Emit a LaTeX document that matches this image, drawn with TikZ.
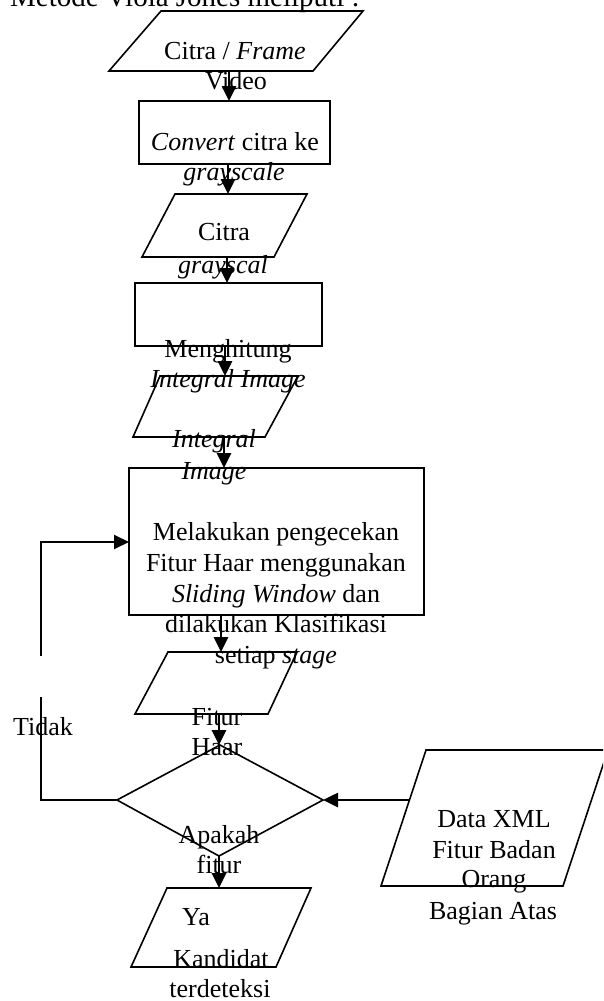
\documentclass[tikz,border=0pt]{standalone}
\usepackage{fontspec}
\setmainfont{Liberation Serif}
\usetikzlibrary{arrows.meta}
\begin{document}
\begin{tikzpicture}[x=1pt,y=-1pt,
  shp/.style={draw=black, line width=1.6pt, line join=miter},
  box/.style={shp, inner sep=0pt, outer sep=0pt},
  arr/.style={draw=black, line width=2.6pt, -{Triangle[length=15pt,width=14pt]}},
  arrthin/.style={draw=black, line width=2pt, -{Triangle[length=15pt,width=14pt]}},
  lin/.style={draw=black, line width=1.8pt},
  txt/.style={font=\fontsize{26}{31}\selectfont, inner sep=0pt, anchor=base},
  ttl/.style={font=\fontsize{29}{34}\selectfont, inner sep=0pt, anchor=base west},
]
\useasboundingbox (0,0) rectangle (603,1001);
\clip (0,0) rectangle (603,1001);

% ---- texts ----
\node[ttl] (title) at (10,6) {Metode Viola Jones meliputi :};
\node[txt] (t1a) at (235,59) {Citra / \textit{Frame}};
\node[txt] (t1b) at (236,89) {Video};
\node[txt] (t2a) at (235,150) {\textit{Convert} citra ke};
\node[txt] (t2b) at (234,180) {\textit{grayscale}};
\node[txt] (t3a) at (224,240) {Citra};
\node[txt] (t3b) at (223,273) {\textit{grayscal}};
\node[txt] (t4a) at (228,357) {Menghitung};
\node[txt] (t4b) at (228,387) {\textit{Integral Image}};
\node[txt] (t5a) at (214,447) {\textit{Integral}};
\node[txt] (t5b) at (214,479) {\textit{Image}};
\node[txt] (t6a) at (276,540) {Melakukan pengecekan};
\node[txt] (t6b) at (276,571) {Fitur Haar menggunakan};
\node[txt] (t6c) at (276,602) {\textit{Sliding Window} dan};
\node[txt] (t6d) at (276,632) {dilakukan Klasifikasi};
\node[txt] (t6e) at (276,663) {setiap \textit{stage}};
\node[txt] (t7a) at (217,725) {Fitur};
\node[txt] (t7b) at (217,755) {Haar};
\node[txt, anchor=base west] (tidak) at (13,735) {Tidak};
\node[txt] (t8a) at (219,843) {Apakah};
\node[txt] (t8b) at (219,873) {fitur};
\node[txt, anchor=base west] (ya) at (182,925) {Ya};
\node[txt] (t9a) at (221,967) {Kandidat};
\node[txt] (t9b) at (220,997) {terdeteksi};
\node[txt] (x1) at (494,827) {Data XML};
\node[txt] (x2) at (494,858) {Fitur Badan};
\node[txt] (x3) at (494,887) {Orang};
\node[txt] (x4) at (493,919) {Bagian Atas};

% ---- shapes ----
\draw[shp] (161,11) -- (363,11) -- (313,71) -- (109,71) -- cycle;
\node[box, minimum width=191pt, minimum height=63pt] (r2) at (234.5,132.5) {};
\draw[shp] (175,194) -- (307,194) -- (274,257) -- (142,257) -- cycle;
\node[box, minimum width=187pt, minimum height=63pt] (r4) at (228.5,314.5) {};
\draw[shp] (160,376) -- (298,376) -- (265,437) -- (133,437) -- cycle;
\node[box, minimum width=295pt, minimum height=147pt] (r6) at (276.5,541.5) {};
\draw[shp] (168,652) -- (297,652) -- (268,714) -- (135,714) -- cycle;
\coordinate (dW) at (117,800);
\coordinate (dN) at (220,745);
\coordinate (dE) at (323,800);
\coordinate (dS) at (219,856);
\draw[shp] (dW) -- (dN) -- (dE) -- (dS) -- cycle;
\draw[shp] (167,888) -- (311,888) -- (276,967) -- (131,967) -- cycle;
\draw[shp] (426,750) -- (608,750) -- (563,886) -- (381,886) -- cycle;

% ---- connector end points ----
\coordinate (p1b) at (229,71);
\coordinate (p3t) at (228,194);
\coordinate (p3b) at (227,257);
\coordinate (p5t) at (225,376);
\coordinate (p5b) at (224,437);
\coordinate (p7t) at (221,652);
\coordinate (p7b) at (219,714);
\coordinate (p8t) at (219,888);
\coordinate (p9l) at (409,800);
\coordinate (lpA) at (41,800);
\coordinate (lpB) at (41,697);
\coordinate (lpC) at (41,656);
\coordinate (lpD) at (41,542);

% ---- connectors ----
\draw[arr] (p1b) -- (p1b |- r2.north);
\draw[arr] (r2.south -| p3t) -- (p3t);
\draw[arr] (p3b) -- (p3b |- r4.north);
\draw[arr] (r4.south -| p5t) -- (p5t);
\draw[arr] (p5b) -- (p5b |- r6.north);
\draw[arr] (r6.south -| p7t) -- (p7t);
\draw[arr] (p7b) -- (p7b |- dN);
\draw[arr] (dS) -- (p8t);
\draw[arr] (p9l) -- (dE);
\draw[lin] (dW) -- (lpA) -- (lpB);
\draw[arrthin] (lpC) -- (lpD) -- (lpD -| r6.west);
\end{tikzpicture}
\end{document}
